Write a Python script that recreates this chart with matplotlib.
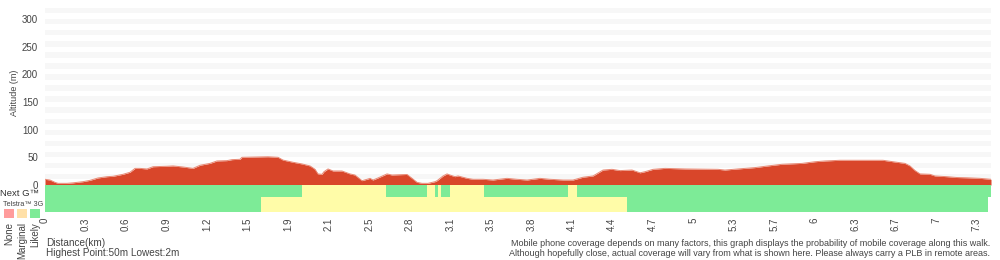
"""Walk elevation profile with mobile coverage strips underneath."""

import matplotlib
matplotlib.use("Agg")
import matplotlib.pyplot as plt
from matplotlib.patches import Rectangle

plt.rcParams["font.family"] = ["Liberation Sans", "DejaVu Sans"]

# elevation profile (km, m)
dist_km = [0.0, 0.039, 0.078, 0.102, 0.172, 0.219, 0.298, 0.352, 0.415, 0.486,
           0.533, 0.611, 0.666, 0.705, 0.744, 0.799, 0.846, 0.956, 1.003, 1.081,
           1.159, 1.214, 1.292, 1.347, 1.426, 1.465, 1.527, 1.543, 1.747, 1.825,
           1.864, 1.943, 2.013, 2.076, 2.115, 2.138, 2.170, 2.185, 2.217, 2.256,
           2.326, 2.389, 2.428, 2.483, 2.522, 2.546, 2.569, 2.608, 2.679, 2.718,
           2.796, 2.836, 2.875, 2.914, 2.953, 3.000, 3.055, 3.071, 3.118, 3.149,
           3.172, 3.212, 3.235, 3.306, 3.353, 3.431, 3.509, 3.619, 3.697, 3.776,
           3.877, 3.956, 4.058, 4.136, 4.214, 4.293, 4.371, 4.441, 4.504, 4.598,
           4.661, 4.700, 4.763, 4.857, 5.013, 5.272, 5.326, 5.428, 5.561, 5.663,
           5.773, 5.930, 6.031, 6.110, 6.227, 6.564, 6.642, 6.736, 6.775, 6.815,
           6.854, 6.932, 6.971, 7.065, 7.144, 7.222, 7.324, 7.410]
elev_m = [10.3, 9.0, 4.8, 3.0, 3.0, 3.9, 6.0, 8.4, 12.7, 15.0,
          15.7, 19.3, 23.0, 30.0, 30.0, 29.0, 33.0, 33.8, 34.4, 32.5,
          30.0, 35.6, 39.0, 43.4, 44.0, 45.8, 46.4, 50.0, 51.0, 50.0,
          45.0, 41.0, 38.0, 34.4, 28.3, 20.0, 19.3, 24.0, 29.0, 25.3,
          25.3, 20.0, 18.0, 7.8, 10.3, 12.0, 9.0, 12.7, 20.0, 18.0,
          18.7, 19.0, 12.0, 4.8, 3.0, 3.0, 6.0, 7.8, 16.3, 20.0,
          18.0, 15.0, 16.3, 12.0, 10.3, 10.3, 9.0, 12.0, 10.3, 9.0,
          12.0, 10.3, 9.0, 9.0, 14.0, 16.3, 27.0, 28.3, 26.0, 27.0,
          22.0, 24.0, 28.3, 30.0, 29.0, 28.3, 27.0, 29.0, 31.4, 34.4,
          37.4, 39.0, 42.0, 43.4, 44.6, 44.6, 42.0, 39.0, 34.4, 26.0,
          20.0, 19.3, 16.3, 15.0, 13.5, 13.0, 12.0, 10.3]

# coverage segments: (start km, end km, status)
nextg_segments = [(0.0, 2.011, "likely"), (2.011, 2.669, "marginal"),
                  (2.669, 2.990, "likely"), (2.990, 3.055, "marginal"),
                  (3.055, 3.081, "likely"), (3.081, 3.102, "marginal"),
                  (3.102, 3.172, "likely"), (3.172, 3.439, "marginal"),
                  (3.439, 4.094, "likely"), (4.094, 4.167, "marginal"),
                  (4.167, 7.410, "likely")]
telstra3g_segments = [(0.0, 1.692, "likely"), (1.692, 4.556, "marginal"),
                      (4.556, 7.384, "likely")]

x_tick_labels = ["0", "0.3", "0.6", "0.9", "1.2", "1.5", "1.9", "2.1", "2.5",
                 "2.8", "3.1", "3.5", "3.8", "4.1", "4.4", "4.7", "5", "5.3",
                 "5.7", "6", "6.3", "6.7", "7", "7.3"]
y_ticks = [0, 50, 100, 150, 200, 250, 300]

COV_COLORS = {"none": "#ff9c9c", "marginal": "#fffca8", "likely": "#7deb97"}
LEGEND_COLORS = ["#ff9c9c", "#ffe0a8", "#7deb97"]
LEGEND_NAMES = ["None", "Marginal", "Likely"]
TEXT = "#444444"

total_km = dist_km[-1]
tick_step = 7.3 / (len(x_tick_labels) - 1)
tick_pos = [i * tick_step for i in range(len(x_tick_labels))]

fig = plt.figure(figsize=(10, 2.6), dpi=100)

# --- elevation panel
ax = fig.add_axes([0.045, 1 - 185 / 260, 0.946, 185 / 260])
for lo in range(10, 330, 20):
    ax.axhspan(lo, lo + 10, color="#f7f7f7", lw=0, zorder=0)
ax.fill_between(dist_km, elev_m, 0, color="#d9462a", lw=0, zorder=2)
ax.plot(dist_km, elev_m, color="#e98a76", lw=0.7, zorder=3)
ax.set_xlim(0, total_km)
ax.set_ylim(0, 334)
ax.set_yticks(y_ticks)
ax.set_yticklabels([str(v) for v in y_ticks], fontsize=7, color=TEXT)
ax.set_xticks([])
ax.tick_params(axis="y", length=0, pad=5)
ax.set_ylabel("Altitude (m)", fontsize=6.5, color=TEXT, labelpad=2)
for s in ax.spines.values():
    s.set_visible(False)

# --- coverage panel
cax = fig.add_axes([0.045, 1 - 212 / 260, 0.946, 27 / 260])
for start, end, status in telstra3g_segments:
    cax.add_patch(Rectangle((start, 0), end - start, 15,
                            color=COV_COLORS[status], lw=0))
for start, end, status in nextg_segments:
    cax.add_patch(Rectangle((start, 15), end - start, 12,
                            color=COV_COLORS[status], lw=0))
cax.set_xlim(0, total_km)
cax.set_ylim(0, 27)
cax.set_yticks([])
cax.set_xticks(tick_pos)
cax.set_xticklabels(x_tick_labels, rotation=90, fontsize=7, color=TEXT)
cax.tick_params(axis="x", length=0, pad=4)
for s in cax.spines.values():
    s.set_visible(False)

# --- left-hand labels and legend
fig.text(0.0, 1 - 194 / 260, "Next G™", fontsize=6.8, color="#333333",
         va="center", ha="left")
fig.text(0.003, 1 - 205 / 260, "Telstra™ 3G", fontsize=5.2, color=TEXT,
         va="center", ha="left")
for i, (c, name) in enumerate(zip(LEGEND_COLORS, LEGEND_NAMES)):
    x0 = (4 + 13 * i) / 1000
    fig.patches.append(Rectangle((x0, 1 - 218 / 260), 10 / 1000, 9 / 260,
                                 transform=fig.transFigure, color=c, lw=0))
    fig.text(x0 + 5 / 1000, 1 - 222 / 260, name, rotation=90, fontsize=7,
             color=TEXT, ha="center", va="top")

# --- footer text
fig.text(0.046, 1 - 243 / 260, "Distance(km)", fontsize=7.2, color=TEXT,
         va="center", ha="left")
fig.text(0.046, 1 - 253 / 260, "Highest Point:50m Lowest:2m", fontsize=7.2,
         color=TEXT, va="center", ha="left")
fig.text(0.99, 1 - 243 / 260,
         "Mobile phone coverage depends on many factors, this graph displays "
         "the probability of mobile coverage along this walk.",
         fontsize=6.5, color=TEXT, va="center", ha="right")
fig.text(0.99, 1 - 253 / 260,
         "Although hopefully close, actual coverage will vary from what is "
         "shown here. Please always carry a PLB in remote areas.",
         fontsize=6.5, color=TEXT, va="center", ha="right")

fig.savefig("out.png", dpi=100)
